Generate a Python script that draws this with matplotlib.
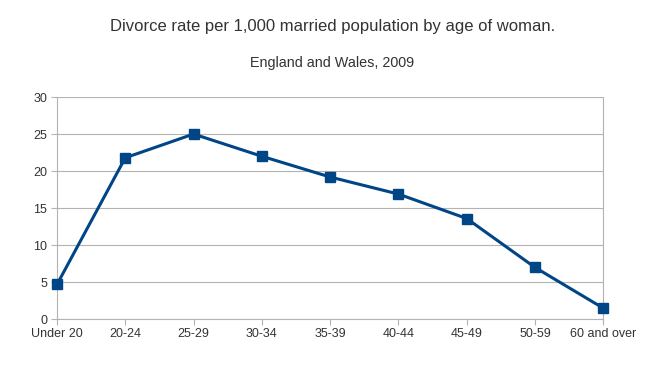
import matplotlib
matplotlib.use("Agg")
import matplotlib.pyplot as plt

categories = ["Under 20", "20-24", "25-29", "30-34", "35-39", "40-44", "45-49", "50-59", "60 and over"]
values = [4.7, 21.8, 25.0, 22.0, 19.2, 16.9, 13.6, 7.0, 1.5]
yticks = [0, 5, 10, 15, 20, 25, 30]

plt.rcParams['font.family'] = ['Liberation Sans', 'DejaVu Sans']

fig = plt.figure(figsize=(6.65, 3.68), dpi=100)
ax = fig.add_axes([57/665, 1-319.3/368, (603.3-57)/665, (319.3-97)/368])

x = list(range(len(categories)))
ax.plot(x, values, color="#004586", lw=2.2, marker="s", ms=7.5, zorder=3, clip_on=False)

ax.set_xlim(0, len(categories)-1)
ax.set_ylim(0, 30)
ax.set_yticks(yticks)
ax.set_xticks(x)
ax.set_xticklabels(categories)
ax.grid(axis="y", color="#b3b3b3", lw=0.8)
ax.grid(axis="x", visible=False)
ax.set_axisbelow(True)
ax.spines["top"].set_visible(False)
for s in ["left", "right", "bottom"]:
    ax.spines[s].set_color("#b3b3b3")
    ax.spines[s].set_linewidth(0.8)
ax.tick_params(axis="both", colors="#b3b3b3", labelcolor="#333333", labelsize=9, length=4, width=0.8)
ax.tick_params(axis="y", pad=3)
ax.tick_params(axis="x", pad=2)

fig.text(0.5, 1-27/368, "Divorce rate per 1,000 married population by age of woman.", ha="center", va="center", fontsize=12, color="#333333")
fig.text(0.5, 1-63/368, "England and Wales, 2009", ha="center", va="center", fontsize=10.4, color="#333333")

fig.savefig("out.png", dpi=100)
